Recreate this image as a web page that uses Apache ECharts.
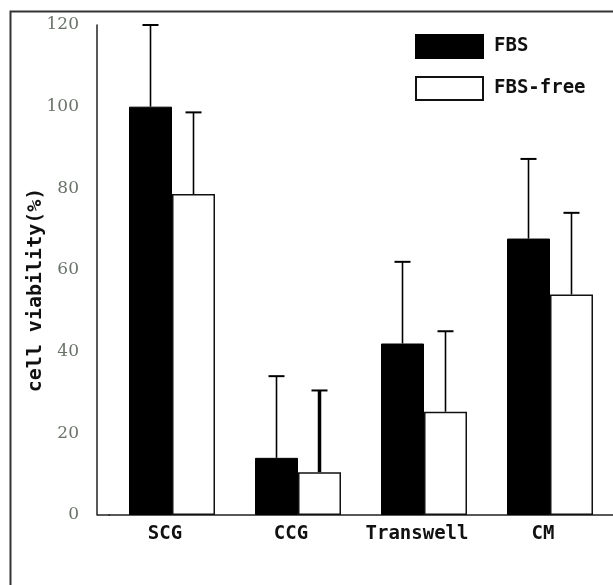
<!DOCTYPE html>
<html>
<head>
<meta charset="utf-8">
<script src="https://cdn.jsdelivr.net/npm/echarts@6/dist/echarts.min.js"></script>
<style>html,body{margin:0;padding:0;background:#fff;}#c{width:613px;height:585px;}</style>
</head>
<body>
<div id="c"></div>
<script>
var categories = ['SCG', 'CCG', 'Transwell', 'CM'];
var fbsValues = [100, 14, 42, 67.7];
var fbsErrors = [20, 20, 20, 19.5];
var freeValues = [78.6, 10.5, 25.3, 54];
var freeErrors = [20, 20, 19.7, 20];
var yTicks = [0, 20, 40, 60, 80, 100, 120];

var BAR_W = 43;
var monoFont = '"DejaVu Sans Mono", monospace';

function errRenderer(side, thickIdx) {
  return function (params, api) {
    var i = api.value(0), v = api.value(1), e = api.value(2);
    var base = api.coord([i, v]);
    var top = api.coord([i, v + e]);
    var x = base[0] + side * BAR_W / 2;
    var lw = (i === thickIdx) ? 3.5 : 1.6;
    return {
      type: 'group',
      children: [
        { type: 'line', shape: { x1: x, y1: base[1], x2: x, y2: top[1] }, style: { stroke: '#000', lineWidth: lw } },
        { type: 'line', shape: { x1: x - 8, y1: top[1], x2: x + 8, y2: top[1] }, style: { stroke: '#000', lineWidth: 2 } }
      ]
    };
  };
}

var chart = echarts.init(document.getElementById('c'), null, { renderer: 'canvas' });
chart.setOption({
  backgroundColor: '#fff',
  animation: false,
  grid: { left: 109, right: 0, top: 25, bottom: 70, containLabel: false },
  legend: {
    orient: 'vertical',
    left: 415,
    top: 34,
    padding: 0,
    icon: 'rect',
    itemWidth: 67,
    itemHeight: 23,
    itemGap: 17,
    data: ['FBS', 'FBS-free'],
    textStyle: { fontFamily: monoFont, fontWeight: 'bold', fontSize: 19, color: '#111', padding: [0, 0, 0, 6] }
  },
  xAxis: {
    type: 'category',
    data: categories,
    boundaryGap: true,
    axisLine: { lineStyle: { color: '#222', width: 1.5 } },
    axisTick: { show: false },
    axisLabel: { interval: 0, fontFamily: monoFont, fontWeight: 'bold', fontSize: 19, color: '#111', margin: 10, padding: [0, 14, 0, 0] }
  },
  yAxis: {
    type: 'value',
    min: 0, max: 120, interval: 20,
    offset: 12,
    name: 'cell viability(%)',
    nameLocation: 'middle',
    nameGap: 51,
    nameMoveOverlap: false,
    nameTextStyle: { fontFamily: monoFont, fontWeight: 'bold', fontSize: 20, color: '#111', padding: [0, 40, 0, 0] },
    axisLine: { show: true, lineStyle: { color: '#222', width: 1.5 } },
    axisTick: { show: false },
    splitLine: { show: false },
    axisLabel: {
      fontFamily: '"DejaVu Serif", serif', fontSize: 17, color: '#6a736a', margin: 18,
      formatter: function (v) { return yTicks.indexOf(v) >= 0 ? String(v) : ''; }
    }
  },
  graphic: [
    { type: 'rect', left: 8, top: 9, shape: { width: 700, height: 700 }, style: { fill: 'none', stroke: '#333', lineWidth: 2 }, silent: true },
    { type: 'line', shape: { x1: 97, y1: 515, x2: 110, y2: 515 }, style: { stroke: '#222', lineWidth: 1.5 }, silent: true }
  ],
  series: [
    {
      name: 'FBS', type: 'bar', data: fbsValues, barWidth: BAR_W, barGap: '0%',
      itemStyle: { color: '#000', borderColor: '#000', borderWidth: 1 }
    },
    {
      name: 'FBS-free', type: 'bar', data: freeValues, barWidth: BAR_W, barGap: '0%',
      itemStyle: { color: '#fff', borderColor: '#111', borderWidth: 1.5 }
    },
    {
      name: 'FBS err', type: 'custom', z: 5,
      renderItem: errRenderer(-1, -1),
      data: fbsValues.map(function (v, i) { return [i, v, fbsErrors[i]]; })
    },
    {
      name: 'FBS-free err', type: 'custom', z: 5,
      renderItem: errRenderer(1, 1),
      data: freeValues.map(function (v, i) { return [i, v, freeErrors[i]]; })
    }
  ]
});
</script>
</body>
</html>
